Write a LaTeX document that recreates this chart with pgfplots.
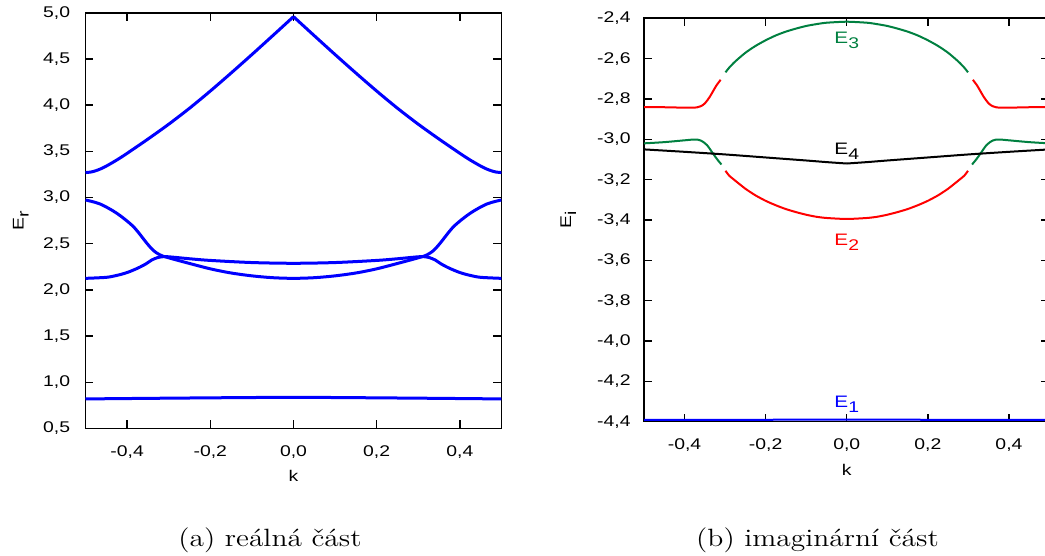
\documentclass[border=0pt]{standalone}
\usepackage{fontspec}
\usepackage{pgfplots}
\pgfplotsset{compat=1.18}
\newfontfamily\labfont{Liberation Sans}
\newcommand\tf{\labfont\fontsize{7.75}{9}\selectfont}
\newcommand\lf{\labfont\fontsize{8.3}{10}\selectfont}
\newcommand\sub[1]{\raisebox{-2.5pt}{\labfont\fontsize{7.75}{9}\selectfont #1}}
\newcommand\hs[1]{\scalebox{1.25}[1]{#1}}
\definecolor{dgreen}{RGB}{0,128,64}
\pgfplotsset{
  common/.style={
    scale only axis,
    axis line style={line width=0.8pt},
    every tick/.style={line width=0.7pt, black},
    major tick length=4pt,
    tick align=inside,
    xmin=-0.5, xmax=0.5,
    xtick={-0.4,-0.2,0,0.2,0.4},
    tick label style={font=\tf},
    xticklabel={\hs{\pgfmathprintnumber[use comma,fixed,fixed zerofill,precision=1,assume math mode=true]{\tick}}},
    yticklabel={\hs{\pgfmathprintnumber[use comma,fixed,fixed zerofill,precision=1,assume math mode=true]{\tick}}},
    xticklabel style={yshift=-4.85pt},
    xlabel={\hs{k}},
    label style={font=\tf},
  }
}
\begin{document}
\begin{tikzpicture}
\useasboundingbox (0,0) rectangle (522.5pt,278pt);
% ---------------- (a) real part ----------------
\begin{axis}[common,
  at={(42.75pt,63.75pt)}, anchor=south west,
  width=208pt, height=207.9pt,
  ymin=0.5, ymax=5.0, ytick={0.5,1.0,...,5.0},
  yticklabel style={xshift=-4.2pt},
  xlabel style={at={(axis description cs:0.5,-0.113)}, anchor=center},
  ylabel={\hs{E\sub{r}}},
  ylabel style={at={(axis description cs:-0.1555,0.5)}, anchor=center},
]
\addplot[blue, line width=1.5pt, smooth] coordinates {
 (-0.5,3.27) (-0.4875,3.275) (-0.475,3.29) (-0.4625,3.312) (-0.45,3.34) (-0.425,3.405)
 (-0.4,3.478) (-0.35,3.632) (-0.3,3.793) (-0.25,3.966) (-0.2,4.152) (-0.15,4.347)
 (-0.1,4.547) (-0.05,4.751) (0,4.957)};
\addplot[blue, line width=1.5pt, smooth] coordinates {
 (0,4.957) (0.05,4.751) (0.1,4.547) (0.15,4.347) (0.2,4.152) (0.25,3.966) (0.3,3.793)
 (0.35,3.632) (0.4,3.478) (0.425,3.405) (0.45,3.34) (0.4625,3.312) (0.475,3.29)
 (0.4875,3.275) (0.5,3.27)};
\addplot[blue, line width=1.5pt, smooth, tension=0.5] coordinates {
 (-0.5,2.973) (-0.465,2.93) (-0.425,2.83) (-0.385,2.685) (-0.3525,2.505) (-0.3365,2.425)
 (-0.3205,2.378) (-0.3045,2.353) (-0.264,2.303) (-0.2,2.228) (-0.15,2.183) (-0.1,2.152)
 (-0.05,2.132) (0,2.125) (0.05,2.132) (0.1,2.152) (0.15,2.183) (0.2,2.228) (0.264,2.303)
 (0.3045,2.353) (0.3205,2.378) (0.3365,2.425) (0.3525,2.505) (0.385,2.685) (0.425,2.83)
 (0.465,2.93) (0.5,2.973)};
\addplot[blue, line width=1.5pt, smooth, tension=0.5] coordinates {
 (-0.5,2.125) (-0.45,2.136) (-0.4246,2.157) (-0.4005,2.187) (-0.375,2.234) (-0.355,2.281)
 (-0.3405,2.324) (-0.327,2.349) (-0.3125,2.36) (-0.2964,2.357) (-0.25,2.337) (-0.2,2.319)
 (-0.1,2.296) (0,2.288) (0.1,2.296) (0.2,2.319) (0.25,2.337) (0.2964,2.357) (0.3125,2.36)
 (0.327,2.349) (0.3405,2.324) (0.355,2.281) (0.375,2.234) (0.4005,2.187) (0.4246,2.157)
 (0.45,2.136) (0.5,2.125)};
\addplot[blue, line width=1.5pt, smooth] coordinates {
 (-0.5,0.82) (-0.25,0.83) (0,0.837) (0.25,0.83) (0.5,0.82)};
\end{axis}
\node[anchor=base, font=\fontsize{12.5}{15}\selectfont] at (135pt,4.5pt) {\scalebox{1.18}[1]{(a) reálná část}};
% ---------------- (b) imaginary part ----------------
\begin{axis}[common,
  at={(322pt,67.15pt)}, anchor=south west,
  width=202.75pt, height=201.7pt,
  ymin=-4.4, ymax=-2.4, ytick={-4.4,-4.2,...,-2.39},
  yticklabel style={xshift=-3.2pt},
  xlabel style={at={(axis description cs:0.5,-0.1185)}, anchor=center},
  ylabel={\hs{E\sub{i}}},
  ylabel style={at={(axis description cs:-0.1867,0.5)}, anchor=center},
]
% E2 (red) outer parts
\addplot[red, line width=1pt, smooth, tension=0.5] coordinates {
 (-0.5,-2.84) (-0.45,-2.841) (-0.4,-2.843) (-0.37,-2.842) (-0.36,-2.836) (-0.35,-2.822)
 (-0.338,-2.79) (-0.322,-2.735) (-0.311,-2.705)};
\addplot[red, line width=1pt, smooth, tension=0.5] coordinates {
 (0.311,-2.705) (0.322,-2.735) (0.338,-2.79) (0.35,-2.822) (0.36,-2.836) (0.37,-2.842)
 (0.4,-2.843) (0.45,-2.841) (0.5,-2.84)};
% E2 (red) lower arc
\addplot[red, line width=1pt, smooth, tension=0.4] coordinates {
 (-0.299,-3.156) (-0.29,-3.18) (-0.275,-3.205) (-0.25,-3.245) (-0.225,-3.278) (-0.2,-3.305)
 (-0.175,-3.327) (-0.15,-3.346) (-0.125,-3.361) (-0.1,-3.374) (-0.075,-3.384) (-0.05,-3.39)
 (0,-3.395) (0.05,-3.39) (0.075,-3.384) (0.1,-3.374) (0.125,-3.361) (0.15,-3.346)
 (0.175,-3.327) (0.2,-3.305) (0.225,-3.278) (0.25,-3.245) (0.275,-3.205) (0.29,-3.18)
 (0.299,-3.156)};
% E3 (green) upper arc
\addplot[dgreen, line width=1pt, smooth, tension=0.4] coordinates {
 (-0.299,-2.668) (-0.29,-2.645) (-0.275,-2.614) (-0.25,-2.571) (-0.225,-2.537) (-0.2,-2.509)
 (-0.175,-2.485) (-0.15,-2.466) (-0.125,-2.451) (-0.1,-2.438) (-0.075,-2.429) (-0.05,-2.422)
 (0,-2.417) (0.05,-2.422) (0.075,-2.429) (0.1,-2.438) (0.125,-2.451) (0.15,-2.466)
 (0.175,-2.485) (0.2,-2.509) (0.225,-2.537) (0.25,-2.571) (0.275,-2.614) (0.29,-2.645)
 (0.299,-2.668)};
% E3 (green) outer parts
\addplot[dgreen, line width=1pt, smooth, tension=0.5] coordinates {
 (-0.5,-3.02) (-0.45,-3.014) (-0.4,-3.005) (-0.375,-3.001) (-0.36,-3.006) (-0.345,-3.028)
 (-0.33,-3.07) (-0.32,-3.098) (-0.309,-3.125)};
\addplot[dgreen, line width=1pt, smooth, tension=0.5] coordinates {
 (0.309,-3.125) (0.32,-3.098) (0.33,-3.07) (0.345,-3.028) (0.36,-3.006) (0.375,-3.001)
 (0.4,-3.005) (0.45,-3.014) (0.5,-3.02)};
% E4 (black)
\addplot[black, line width=1pt, smooth, tension=0.4] coordinates {
 (-0.5,-3.05) (-0.4,-3.062) (-0.3,-3.075) (-0.2,-3.09) (-0.1,-3.105) (-0.05,-3.113) (0,-3.12)};
\addplot[black, line width=1pt, smooth, tension=0.4] coordinates {
 (0,-3.12) (0.05,-3.113) (0.1,-3.105) (0.2,-3.09) (0.3,-3.075) (0.4,-3.062) (0.5,-3.05)};
% E1 (blue)
\addplot[blue, line width=1pt] coordinates {(-0.5,-4.391) (0,-4.39) (0.5,-4.391)};
\node[anchor=base, text=dgreen, font=\lf, inner sep=0pt] at (axis cs:0,-2.524) {\hs{E\sub{3}}};
\node[anchor=base, text=red, font=\lf, inner sep=0pt] at (axis cs:0,-3.524) {\hs{E\sub{2}}};
\node[anchor=base, text=black, font=\lf, inner sep=0pt] at (axis cs:0,-3.073) {\hs{E\sub{4}}};
\node[anchor=base, text=blue, font=\lf, inner sep=0pt] at (axis cs:0,-4.329) {\hs{E\sub{1}}};
\end{axis}
\node[anchor=base, font=\fontsize{12.5}{15}\selectfont] at (408.75pt,4.5pt) {\scalebox{1.18}[1]{(b) imaginární část}};
\end{tikzpicture}
\end{document}
